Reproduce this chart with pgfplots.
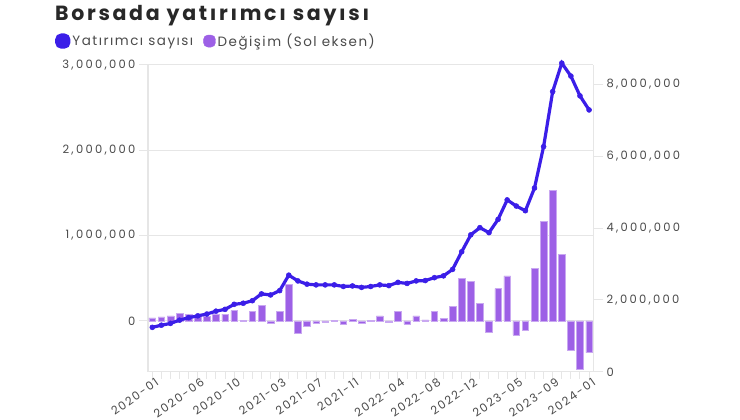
\documentclass[border=0pt]{standalone}
\usepackage{fontspec}
\setmainfont{Poppins}
\newfontfamily\tickfont[LetterSpace=20]{Poppins}
\newfontfamily\xtickfont[LetterSpace=14]{Poppins}
\newfontfamily\legfont[LetterSpace=11]{Poppins}
\newfontfamily\titlefont[LetterSpace=13]{Poppins}
\usepackage{pgfplots}
\usepackage{pgfplotstable}
\pgfplotsset{compat=1.18}
\definecolor{linec}{RGB}{59,30,232}
\definecolor{barc}{RGB}{157,96,230}
\definecolor{gridc}{RGB}{230,230,230}
\definecolor{txt}{RGB}{75,75,75}
\definecolor{titlec}{RGB}{40,40,40}
\pgfplotstableread{
i line bar
0 1.24 0.035
1 1.30 0.047
2 1.35 0.059
3 1.44 0.090
4 1.51 0.080
5 1.56 0.051
6 1.61 0.051
7 1.69 0.078
8 1.74 0.078
9 1.88 0.120
10 1.91 0.004
11 1.98 0.110
12 2.17 0.180
13 2.14 -0.027
14 2.26 0.110
15 2.69 0.430
16 2.53 -0.150
17 2.44 -0.067
18 2.42 -0.027
19 2.42 -0.012
20 2.42 0.008
21 2.375 -0.042
22 2.39 0.020
23 2.35 -0.027
24 2.375 0.003
25 2.42 0.059
26 2.40 -0.020
27 2.49 0.108
28 2.46 -0.040
29 2.53 0.059
30 2.54 0.010
31 2.62 0.114
32 2.67 0.031
33 2.85 0.167
34 3.34 0.494
35 3.81 0.459
36 4.01 0.206
37 3.87 -0.133
38 4.24 0.378
39 4.78 0.527
40 4.61 -0.165
41 4.48 -0.116
42 5.11 0.618
43 6.26 1.162
44 7.79 1.530
45 8.58 0.776
46 8.22 -0.350
47 7.67 -0.565
48 7.28 -0.372
}\data
\pgfplotsset{
  common/.style={
    at={(148pt,48pt)}, anchor=south west,
    scale only axis, width=445pt, height=307pt,
    xmin=-0.47, xmax=48.43,
    tick label style={font=\tickfont\fontsize{11.5}{13}\selectfont, text=txt},
    /pgf/number format/assume math mode=true,
  }
}
\begin{document}
\begin{tikzpicture}
\fill[white] (0pt,0pt) rectangle (740pt,420pt);
\node[anchor=base west, text=titlec, font=\titlefont\fontsize{20.5}{23}\selectfont\bfseries, inner sep=0pt] at (55pt,399pt) {Borsada yatırımcı sayısı};
\begin{axis}[common,
  ymin=-0.6, ymax=3.0,
  axis x line*=bottom, axis y line*=left,
  axis line style={draw=gridc, line width=1pt},
  ytick={0,1,2,3},
  yticklabels={0,{1,000,000},{2,000,000},{3,000,000}},
  ymajorgrids, grid style={draw=gridc, line width=1pt},
  ytick style={draw=gridc, line width=1pt},
  xtick style={draw=gridc, line width=1pt},
  tick align=outside, major tick length=9pt, minor tick length=7pt,
  xtick={0,5,9,14,18,22,27,31,35,40,44,48},
  xticklabels={2020-01,2020-06,2020-10,2021-03,2021-07,2021-11,2022-04,2022-08,2022-12,2023-05,2023-09,2024-01},
  minor xtick={0,...,48},
  xticklabel style={font=\xtickfont\fontsize{11.5}{13}\selectfont, rotate=35, anchor=north east, inner sep=1pt, xshift=5pt, yshift=2.5pt},
  xtick pos=bottom, ytick pos=left,
]
\addplot[ybar, bar width=0.73, fill=barc, draw=barc!55!white, line width=0.5pt] table[x=i, y=bar] {\data};
\end{axis}
\begin{axis}[common,
  ymin=0, ymax=8.528,
  axis x line=none, axis y line*=right,
  axis line style={draw=gridc, line width=1pt},
  ytick={0,2,4,6,8},
  yticklabels={0,{2,000,000},{4,000,000},{6,000,000},{8,000,000}},
  ytick style={draw=gridc, line width=1pt},
  tick align=outside, major tick length=10pt,
  clip=false,
  legend style={at={(axis description cs:-0.209,1.078)}, anchor=west, draw=none, fill=none,
    font=\legfont\fontsize{13.5}{15}\selectfont, text=txt, legend columns=2,
    /tikz/every even column/.append style={column sep=8pt}, inner sep=0pt},
  legend cell align=left,
]
\addplot[color=linec, line width=3.2pt, mark=*, mark size=2.5pt, mark options={fill=linec, draw=linec, line width=0.5pt},
  legend image code/.code={\fill[linec, rounded corners=4.5pt] (0pt,-6pt) rectangle (12pt,6pt);}]
  table[x=i, y=line] {\data};
\addlegendentry{Yatırımcı sayısı}
\addlegendimage{legend image code/.code={\fill[barc, rounded corners=4.5pt] (0pt,-6pt) rectangle (12pt,6pt);}}
\addlegendentry{Değişim (Sol eksen)}
\end{axis}
\end{tikzpicture}
\end{document}
